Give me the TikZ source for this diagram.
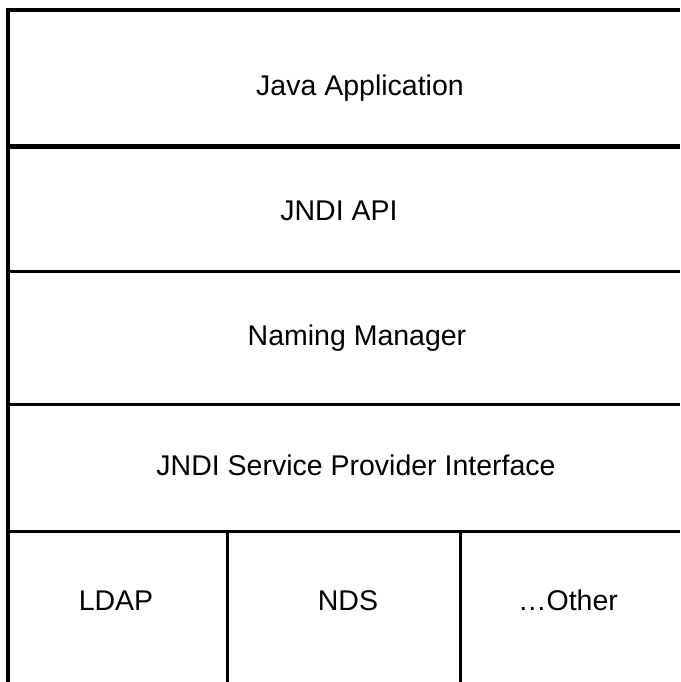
\documentclass[tikz,border=0pt]{standalone}
\usepackage{fontspec}
\setmainfont{Liberation Sans}

\begin{document}
\begin{tikzpicture}[x=1pt, y=-1pt,
    every node/.style = {font=\fontsize{28.5}{34}\selectfont,
                         inner sep=0pt, anchor=base},
    frameln/.style    = {draw=black, line width=4pt},
    thickln/.style    = {draw=black, line width=4.5pt},
    layerln/.style    = {draw=black, line width=3pt}]

    \useasboundingbox (0,0) rectangle (680,682);

    % Outer frame (open to the right and at the bottom)
    \draw[frameln] (8,682) -- (8,10.5) -- (680,10.5);

    % Layer dividers
    \draw[thickln] (8,146.5) -- (680,146.5);
    \draw[layerln] (8,271.5) -- (680,271.5);
    \draw[layerln] (8,404.5) -- (680,404.5);
    \draw[layerln] (8,531.5) -- (680,531.5);

    % Provider columns
    \draw[layerln] (227,531.5) -- (227,682);
    \draw[layerln] (460,531.5) -- (460,682);

    % Layer labels
    \node (app)   at (360,96)  {Java Application};
    \node (api)   at (339,220) {JNDI API};
    \node (mgr)   at (357,345) {Naming Manager};
    \node (spi)   at (356,475) {JNDI Service Provider Interface};

    % Providers
    \node (ldap)  at (116,610) {LDAP};
    \node (nds)   at (348,610) {NDS};
    \node (other) at (568,610) {\ldots Other};
  \end{tikzpicture}
\end{document}
